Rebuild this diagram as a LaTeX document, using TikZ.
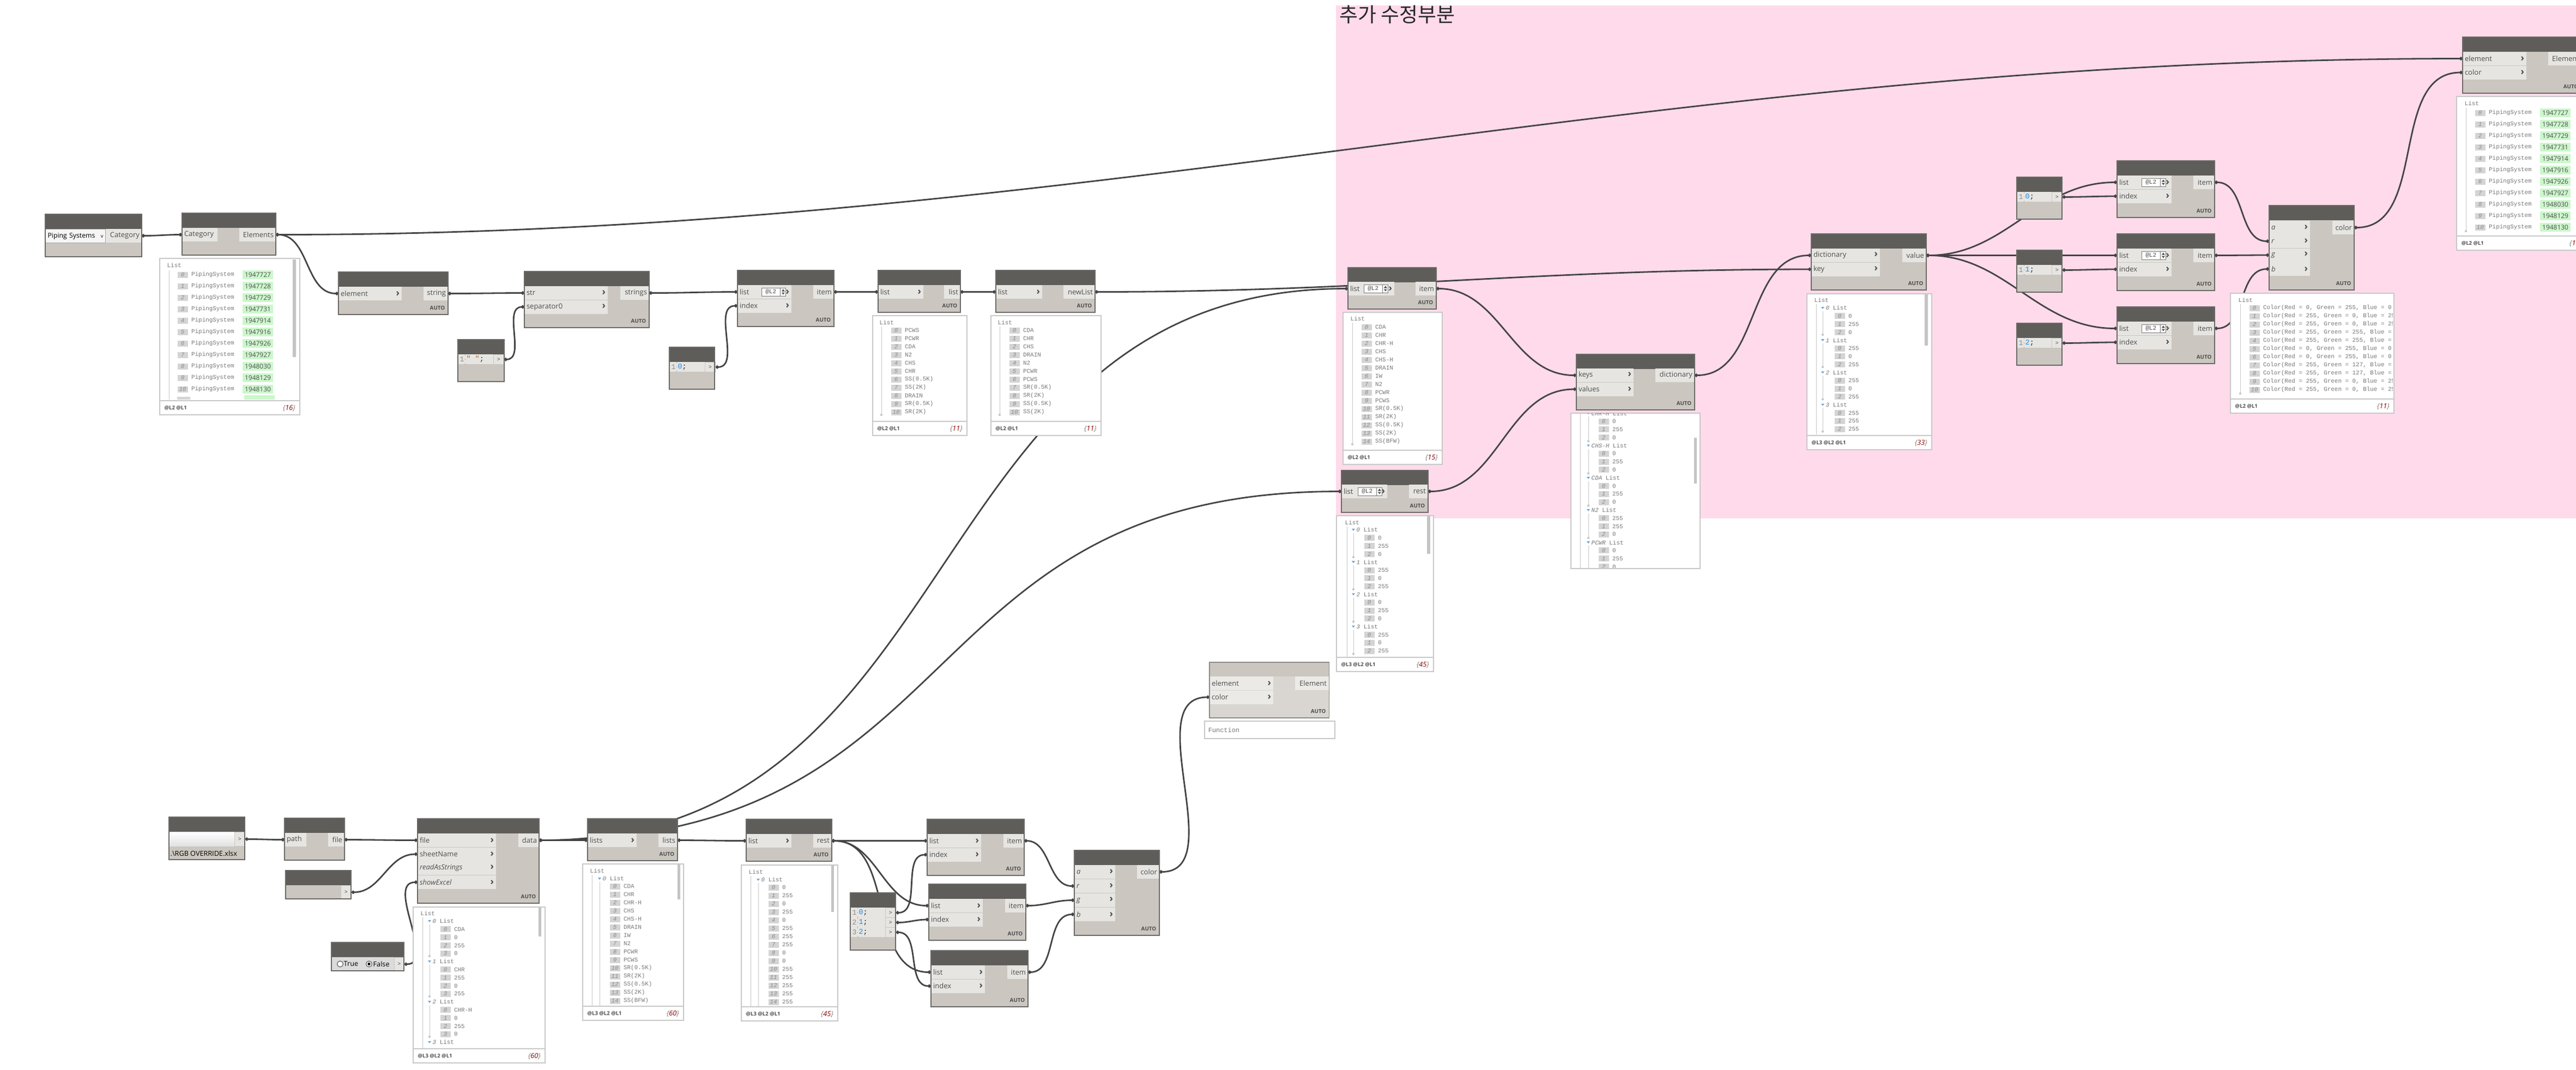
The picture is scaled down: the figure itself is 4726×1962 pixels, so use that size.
\documentclass[tikz,border=0pt]{standalone}
\usepackage{fontspec}
\setmainfont{Open Sans}
\setmonofont{Liberation Mono}
\newfontfamily\krfont{Noto Sans CJK KR}
\usepackage{tikz}
\usetikzlibrary{positioning,calc,arrows.meta}

\definecolor{dynhead}{HTML}{5E5D5A}
\definecolor{dynbody}{HTML}{CBC7C0}
\definecolor{dynport}{HTML}{E6E5E2}
\definecolor{dynedge}{HTML}{6A6966}
\definecolor{dyntext}{HTML}{4D4D4D}
\definecolor{dynwire}{HTML}{444444}
\definecolor{dynpink}{HTML}{FFDAEA}
\definecolor{dynidx}{HTML}{D4D4D4}
\definecolor{dynval}{HTML}{7A7A7A}
\definecolor{dynid}{HTML}{CCF7CC}
\definecolor{dynred}{HTML}{8B0000}
\definecolor{dynwatch}{HTML}{C8C8C8}
\definecolor{dynscroll}{HTML}{C4C4C4}
\definecolor{dynblue}{HTML}{1E8CE6}
\definecolor{dynstr}{HTML}{B5651D}
\definecolor{dyntri}{HTML}{6FA8DC}
\definecolor{fnbody}{HTML}{D9D6D1}
\definecolor{fnport}{HTML}{EBEAE7}
\definecolor{fnedge}{HTML}{8A8A88}

\pgfdeclarelayer{back}
\pgfdeclarelayer{wires}
\pgfdeclarelayer{frames}
\pgfsetlayers{back,wires,main,frames}

\newcommand{\portfont}{\fontsize{3.7}{4}\selectfont}
\newcommand{\chev}{{\fontsize{5}{5}\selectfont\bfseries ›}}

% node body with dark header
\newcommand{\dyn}[5]{%
  \node[dbody, minimum width=#4*0.01cm, minimum height=#5*0.01cm] (#1) at (#2,#3) {};
  \fill[dynhead] (#1.north west) rectangle ($(#1.north east)+(0,27)$);
  \begin{pgfonlayer}{frames}
    \draw[dynedge, line width=0.012cm] (#1.north west) rectangle (#1.south east);
  \end{pgfonlayer}}
\newcommand{\dynauto}[1]{\node[autol] (#1-auto) at ($(#1.south east)+(-5,-12)$) {AUTO};}

% ports
\newcommand{\inport}[6][]{%
  \pgfmathsetlengthmacro\pw{#5*0.01cm-0.08cm}%
  \node[inport, text width=\pw, #1] (#2) at (#3,#4) {#6\hfill\chev};}
\newcommand{\plainport}[6][]{%
  \pgfmathsetlengthmacro\pw{#5*0.01cm-0.08cm}%
  \node[inport, text width=\pw, #1] (#2) at (#3,#4) {#6};}
\newcommand{\outport}[6][]{%
  \pgfmathsetlengthmacro\pw{#5*0.01cm-0.08cm}%
  \node[outport, text width=\pw, #1] (#2) at (#3,#4) {\hfill #6};}
\newcommand{\outbox}[5]{\node[cout, minimum width=#4*0.01cm, minimum height=#5*0.01cm] (#1) at (#2,#3) {>};}
\newcommand{\spin}[3]{%
  \node[spinbox] (#1) at (#2,#3) {@L2};
  \draw[dynval, line width=0.008cm] ($(#1.east)+(-10,-7)$) -- ($(#1.east)+(-10,7)$);
  \fill[dyntext] ($(#1.east)+(-8,-1)$) -- ++(6,0) -- ++(-3,-4) -- cycle;
  \fill[dyntext] ($(#1.east)+(-8,1)$) -- ++(6,0) -- ++(-3,4) -- cycle;}

% code block line
\newcommand{\codeline}[6]{%
  \fill[dynport] (#2,#3) rectangle ++(#4,18);
  \node[cnum] (#1-n) at (#2+3,#3+9) {#5};
  \draw[dotted, dynval, line width=0.008cm] (#2+13,#3+1) -- ++(0,16);
  \node[ctext] (#1-c) at (#2+15,#3+9) {#6};
  \node[cout] (#1) at (#2+#4,#3) {>};}

% watch boxes
\newcommand{\watch}[7]{%
  \node[wbox, minimum width=#4*0.01cm, minimum height=#5*0.01cm] (#1) at (#2,#3) {};
  \draw[dynwatch, line width=0.02cm] ($(#1.south west)+(0,-27)$) -- ($(#1.south east)+(0,-27)$);
  \node[wlvl] (#1-lvl) at ($(#1.south west)+(9,-13)$) {#6};
  \node[wcnt] (#1-cnt) at ($(#1.south east)+(-8,-13)$) {\{\textcolor{dynred}{#7}\}};}
\newcommand{\wrow}[4]{%
  \node[widx] (wi) at (#1,#2) {#3};
  \node[wval, right=0.05cm of wi] (wv) {#4};}
\newcommand{\wpipe}[4]{%
  \node[widx] (wi) at (#1,#2) {#3};
  \node[wval, right=0.05cm of wi] (wv) {PipingSystem};
  \node[wid, right=0.14cm of wv] (wg) {#4};}
\newcommand{\wsub}[3]{%
  \fill[dyntri] (#1-3,#2-2) -- (#1+3,#2-2) -- (#1,#2+2) -- cycle;
  \node[wval] (ws) at (#1+5,#2) {\textit{#3} List};}
\newcommand{\wtree}[3]{%
  \draw[wtree] (#1,#2) -- (#1,#3);
  \fill[dynwatch] (#1,#3) circle[radius=0.022cm];}

\begin{document}
\begin{tikzpicture}[
    x=0.01cm, y=-0.01cm,
    dbody/.style={rectangle, anchor=north west, fill=dynbody, inner sep=0, outer sep=0},
    inport/.style={anchor=north west, fill=dynport, inner xsep=0.04cm, inner ysep=0, outer sep=0, minimum height=0.25cm, font=\portfont, text=dyntext},
    outport/.style={inport, anchor=north east},
    autol/.style={anchor=east, inner sep=0, font=\bfseries\fontsize{2.8}{3}\selectfont, text=dyntext},
    spinbox/.style={anchor=west, fill=white, draw=dynval, line width=0.008cm, minimum width=0.44cm, minimum height=0.15cm, text width=0.30cm, inner xsep=0.02cm, inner ysep=0, font=\ttfamily\fontsize{3.1}{3.4}\selectfont, text=dyntext},
    cnum/.style={anchor=west, inner sep=0, font=\ttfamily\fontsize{3.8}{4}\selectfont, text=black!45},
    ctext/.style={anchor=west, inner sep=0, font=\ttfamily\fontsize{3.8}{4}\selectfont, text=black!85},
    cout/.style={anchor=north west, fill=dynport, draw=dynbody, line width=0.008cm, minimum width=0.19cm, minimum height=0.18cm, inner sep=0, font=\ttfamily\fontsize{2.8}{3}\selectfont, text=dyntext},
    wbox/.style={anchor=north west, fill=white, draw=dynwatch, line width=0.015cm, inner sep=0},
    wlvl/.style={anchor=west, inner sep=0, font=\bfseries\fontsize{2.7}{3}\selectfont, text=dyntext},
    wcnt/.style={anchor=east, inner sep=0, font=\itshape\fontsize{3.6}{4}\selectfont, text=dynval},
    widx/.style={anchor=west, fill=dynidx, text=black!45, font=\ttfamily\itshape\fontsize{3.1}{3.4}\selectfont, minimum width=0.19cm, minimum height=0.11cm, inner xsep=0.025cm, inner ysep=0},
    wval/.style={anchor=west, inner sep=0, text=dynval, font=\ttfamily\fontsize{3.1}{3.4}\selectfont},
    wid/.style={fill=dynid, text=dyntext, font=\fontsize{3.4}{4}\selectfont, minimum width=0.56cm, minimum height=0.16cm, inner sep=0},
    wtree/.style={draw=dynwatch, line width=0.01cm},
    ddbox/.style={anchor=north west, fill=black!4, draw=black!35, line width=0.01cm, text width=1.02cm, inner xsep=0.04cm, inner ysep=0, minimum height=0.25cm, font=\fontsize{3.5}{4}\selectfont, text=black},
    fpbox/.style={anchor=north west, minimum width=1.2cm, minimum height=0.26cm, inner sep=0, top color=white, bottom color=black!12},
    plaintext/.style={anchor=west, inner sep=0, font=\fontsize{3.6}{4}\selectfont, text=black},
    fnbox/.style={anchor=north west, fill=white, draw=dynwatch, line width=0.015cm, minimum width=2.39cm, minimum height=0.30cm, text width=2.25cm, inner xsep=0.07cm, font=\ttfamily\fontsize{3.4}{4}\selectfont, text=dynval},
    wire/.style={draw=dynwire, line width=0.028cm, out=0, in=180, arrows={Circle[length=0.06cm]-Circle[length=0.06cm]}}
]
\useasboundingbox (0,0) rectangle (4726,1962);
\clip (0,0) rectangle (4726,1962);

% canvas and pink group
\begin{pgfonlayer}{back}
  \fill[white] (0,0) rectangle (4726,1962);
  \fill[dynpink] (2451,10) rectangle (4726,951);
\end{pgfonlayer}
\node[anchor=north west, inner sep=0, font=\krfont\fontsize{10.5}{12}\selectfont, text=black!85] (title) at (2457,9) {추가 수정부분};

% ---------- upper chain ----------
\dyn{cat}{83}{393}{177}{78}
\node[ddbox] (cat-dd) at (83,420) {Piping Systems\hfill{\fontsize{2.6}{3}\selectfont v}};
\outport{cat-out}{260}{420}{66}{Category}

\dyn{allel}{334}{391}{172}{77}
\plainport{allel-in}{334}{418}{65}{Category}
\outport{allel-out}{506}{418}{67}{Elements}

\watch{wB}{292}{473}{257}{287}{@L2 @L1}{16}
\begin{scope}
  \clip (293,474) rectangle (548,732);
  \node[wval] (wB-h) at (306,487) {List};
  \draw[wtree] (310,496) -- (310,740);
  \foreach \i/\d in {0/1947727,1/1947728,2/1947729,3/1947731,4/1947914,5/1947916,6/1947926,7/1947927,8/1948030,9/1948129,10/1948130}{
    \wpipe{325}{504+21*\i}{\i}{\d}}
  \fill[dynidx] (325,728) rectangle (349,740);
  \fill[dynid] (448,725) rectangle (504,741);
\end{scope}
\fill[dynscroll] (537,476) rectangle (543,655);

\dyn{elst}{621}{499}{201}{78}
\inport{elst-in}{621}{526}{116}{element}
\outport{elst-out}{822}{526}{45}{string}
\dynauto{elst}

\dyn{cbsep}{840}{623}{85}{77}
\codeline{cbsep-o}{840}{650}{65}{1}{{\color{dynstr}" "};}

\dyn{join}{962}{498}{229}{103}
\inport{join-str}{962}{525}{153}{str}
\inport{join-sep}{962}{550.5}{153}{separator0}
\outport{join-out}{1191}{525}{53}{strings}
\dynauto{join}

\dyn{gi0}{1353}{496}{177}{103}
\inport{gi0-list}{1353}{523}{99}{list}
\spin{gi0-spin}{1397}{535.5}
\inport{gi0-idx}{1353}{548.5}{99}{index}
\outport{gi0-out}{1530}{523}{38}{item}
\dynauto{gi0}

\dyn{cbidx}{1228}{637}{83}{77}
\codeline{cbidx-o}{1228}{664}{65}{1}{\textcolor{dynblue}{0};}

\dyn{flat}{1611}{496}{151}{77}
\inport{flat-in}{1611}{523}{83}{list}
\outport{flat-out}{1762}{523}{30}{list}
\dynauto{flat}
\watch{wH}{1600}{578}{173}{220}{@L2 @L1}{11}
\begin{scope}
  \clip (1601,579) rectangle (1772,771);
  \node[wval] (wH-h) at (1613,592) {List};
  \wtree{1617}{599}{761}
  \foreach \i/\v in {0/PCWS,1/PCWR,2/CDA,3/N2,4/CHS,5/CHR,6/SS(0.5K),7/SS(2K),8/DRAIN,9/SR(0.5K),10/SR(2K)}{
    \wrow{1634}{606+15*\i}{\i}{\v}}
\end{scope}

\dyn{sort}{1827}{496}{182}{77}
\inport{sort-in}{1827}{523}{85}{list}
\outport{sort-out}{2009}{523}{58}{newList}
\dynauto{sort}
\watch{wI}{1817}{578}{202}{220}{@L2 @L1}{11}
\begin{scope}
  \clip (1818,579) rectangle (2018,771);
  \node[wval] (wI-h) at (1830,592) {List};
  \wtree{1834}{599}{761}
  \foreach \i/\v in {0/CDA,1/CHR,2/CHS,3/DRAIN,4/N2,5/PCWR,6/PCWS,7/SR(0.5K),8/SR(2K),9/SS(0.5K),10/SS(2K)}{
    \wrow{1851}{606+15*\i}{\i}{\v}}
\end{scope}

% ---------- pink group ----------
\dyn{pgi}{2473}{491}{162}{76}
\inport{pgi-list}{2473}{517}{85}{list}
\spin{pgi-spin}{2502}{529.5}
\outport{pgi-out}{2635}{517}{38}{item}
\dynauto{pgi}
\watch{wJ}{2463}{572}{182}{279}{@L2 @L1}{15}
\begin{scope}
  \clip (2464,573) rectangle (2644,825);
  \node[wval] (wJ-h) at (2477,585) {List};
  \wtree{2481}{592}{815}
  \foreach \i/\v in {0/CDA,1/CHR,2/CHR-H,3/CHS,4/CHS-H,5/DRAIN,6/IW,7/N2,8/PCWR,9/PCWS,10/SR(0.5K),11/SR(2K),12/SS(0.5K),13/SS(2K),14/SS(BFW)}{
    \wrow{2497}{600+15*\i}{\i}{\v}}
\end{scope}

\dyn{prest}{2461}{863}{159}{77}
\inport{prest-list}{2461}{889}{84}{list}
\spin{prest-spin}{2491}{901.5}
\outport{prest-out}{2620}{889}{35}{rest}
\dynauto{prest}
\watch{wK}{2451}{945}{178}{286}{@L3 @L2 @L1}{45}
\begin{scope}
  \clip (2452,946) rectangle (2628,1204);
  \node[wval] (wK-h) at (2467,959) {List};
  \draw[wtree] (2471,966) -- (2471,1210);
  \foreach \k/\a/\b/\c in {0/0/255/0,1/255/0/255,2/0/255/0,3/255/0/255}{
    \wsub{2483}{972+59.2*\k}{\k}
    \wtree{2483}{978+59.2*\k}{1022+59.2*\k}
    \wrow{2502}{986.8+59.2*\k}{0}{\a}
    \wrow{2502}{1001.6+59.2*\k}{1}{\b}
    \wrow{2502}{1016.4+59.2*\k}{2}{\c}}
\end{scope}
\fill[dynscroll] (2618,947) rectangle (2624,1016);

\dyn{dkv}{2892}{650}{217}{102}
\inport{dkv-keys}{2892}{676}{105}{keys}
\inport{dkv-vals}{2892}{701.5}{105}{values}
\outport{dkv-out}{3109}{676}{72}{dictionary}
\dynauto{dkv}
\node[wbox, minimum width=2.37cm, minimum height=2.85cm] (wL) at (2881,757) {};
\begin{scope}
  \clip (2882,758) rectangle (3117,1041);
  \draw[wtree] (2899,750) -- (2899,1050);
  \foreach \k/\n/\a/\b/\c in {0/CHR-H/0/255/0,1/CHS-H/0/255/0,2/CDA/0/255/0,3/N2/255/255/0,4/PCWR/0/255/0}{
    \wsub{2914}{758.3+59.2*\k}{\n}
    \wtree{2914}{764.3+59.2*\k}{809.3+59.2*\k}
    \wrow{2932}{773.1+59.2*\k}{0}{\a}
    \wrow{2932}{787.9+59.2*\k}{1}{\b}
    \wrow{2932}{802.7+59.2*\k}{2}{\c}}
\end{scope}
\fill[dynscroll] (3108,803) rectangle (3113,887);

\dyn{dva}{3323}{429}{211}{103}
\inport{dva-dict}{3323}{456}{126}{dictionary}
\inport{dva-key}{3323}{481.5}{126}{key}
\outport{dva-out}{3534}{456}{44}{value}
\dynauto{dva}
\watch{wM}{3314}{538}{229}{286}{@L3 @L2 @L1}{33}
\begin{scope}
  \clip (3315,539) rectangle (3542,796);
  \node[wval] (wM-h) at (3328,551) {List};
  \draw[wtree] (3332,558) -- (3332,800);
  \foreach \k/\a/\b/\c in {0/0/255/0,1/255/0/255,2/255/0/255,3/255/255/255}{
    \wsub{3344}{565+59.2*\k}{\k}
    \wtree{3344}{571+59.2*\k}{614+59.2*\k}
    \wrow{3365}{579.8+59.2*\k}{0}{\a}
    \wrow{3365}{594.6+59.2*\k}{1}{\b}
    \wrow{3365}{609.4+59.2*\k}{2}{\c}}
\end{scope}
\fill[dynscroll] (3531,540) rectangle (3537,634);

\foreach \n/\y/\v in {a/295/0,b/429/1,c/563/2}{
  \dyn{gi\n}{3884}{\y}{179}{104}
  \inport{gi\n-list}{3884}{\y+27}{100}{list}
  \spin{gi\n-spin}{3929}{\y+39.5}
  \inport{gi\n-idx}{3884}{\y+52.5}{100}{index}
  \outport{gi\n-out}{4063}{\y+27}{39}{item}
  \dynauto{gi\n}
  \dyn{cb\n}{3700}{\y+30}{83}{77}
  \codeline{cb\n-o}{3700}{\y+57}{64}{1}{\textcolor{dynblue}{\v};}
}

\dyn{argb}{4163}{377}{156}{155}
\inport{argb-a}{4163}{405}{75}{\textit{a}}
\inport{argb-r}{4163}{430}{75}{\textit{r}}
\inport{argb-g}{4163}{455.5}{75}{\textit{g}}
\inport{argb-b}{4163}{481}{75}{\textit{b}}
\outport{argb-out}{4319}{405}{40}{color}
\dynauto{argb}
\watch{wP}{4091}{537}{300}{220}{@L2 @L1}{11}
\begin{scope}
  \clip (4092,538) rectangle (4389,730);
  \node[wval] (wP-h) at (4106,551) {List};
  \wtree{4110}{558}{722}
  \foreach \i/\r/\g/\b in {0/0/255/0,1/255/0/255,2/255/0/255,3/255/255/255,4/255/255/255,5/0/255/0,6/0/255/0,7/255/127/255,8/255/127/255,9/255/0/255,10/255/0/255}{
    \wrow{4126}{565+15*\i}{\i}{Color(Red = \r, Green = \g, Blue = \b}}
\end{scope}

\dyn{setc}{4518}{68}{218}{103}
\inport{setc-el}{4518}{95}{117}{element}
\inport{setc-col}{4518}{120.5}{117}{color}
\outport{setc-out}{4736}{95}{61}{Element}
\dynauto{setc}
\watch{wQ}{4506}{176}{238}{282}{@L2 @L1}{16}
\begin{scope}
  \clip (4507,177) rectangle (4743,435);
  \node[wval] (wQ-h) at (4521,190) {List};
  \wtree{4524}{198}{424}
  \foreach \i/\d in {0/1947727,1/1947728,2/1947729,3/1947731,4/1947914,5/1947916,6/1947926,7/1947927,8/1948030,9/1948129,10/1948130}{
    \wpipe{4540}{207+21*\i}{\i}{\d}}
\end{scope}

% ---------- lower chain ----------
\dyn{fpath}{310}{1499}{139}{78}
\node[fpbox] (fpath-box) at (310,1526) {};
\outbox{fpath-out}{430}{1526}{19}{26}
\node[plaintext] (fpath-txt) at (312,1566) {.\textbackslash RGB OVERRIDE.xlsx};

\dyn{ffile}{522}{1501}{110}{77}
\plainport{ffile-in}{522}{1528}{40}{path}
\outport{ffile-out}{632}{1528}{30}{file}

\dyn{fstr}{524}{1597}{120}{52}
\outbox{fstr-out}{625}{1624}{19}{25}

\dyn{bool}{608}{1729}{133}{52}
\fill[black!14] (608,1756) rectangle (723,1781);
\draw[dyntext, line width=0.01cm, fill=white] (624,1768.5) circle[radius=0.055cm];
\node[plaintext] (bool-true) at (630,1768.5) {True};
\draw[dyntext, line width=0.01cm, fill=white] (677,1768.5) circle[radius=0.055cm];
\fill[black] (677,1768.5) circle[radius=0.026cm];
\node[plaintext] (bool-false) at (684,1768.5) {False};
\outbox{bool-out}{723}{1756}{18}{25}

\dyn{xls}{766}{1502}{223}{155}
\inport{xls-file}{766}{1529}{144}{file}
\inport{xls-sheet}{766}{1554.5}{144}{sheetName}
\inport{xls-read}{766}{1580}{144}{\textit{readAsStrings}}
\inport{xls-show}{766}{1606}{144}{\textit{showExcel}}
\outport{xls-out}{989}{1529}{38}{data}
\dynauto{xls}
\watch{wU}{757}{1663}{242}{286}{@L3 @L2 @L1}{60}
\begin{scope}
  \clip (758,1664) rectangle (998,1922);
  \node[wval] (wU-h) at (771,1676) {List};
  \draw[wtree] (775,1683) -- (775,1930);
  \foreach \k/\a/\b/\c/\d in {0/CDA/0/255/0,1/CHR/255/0/255,2/CHR-H/0/255/0}{
    \wsub{788}{1690+74*\k}{\k}
    \wtree{788}{1696+74*\k}{1754+74*\k}
    \wrow{807}{1704.8+74*\k}{0}{\a}
    \wrow{807}{1719.6+74*\k}{1}{\b}
    \wrow{807}{1734.4+74*\k}{2}{\c}
    \wrow{807}{1749.2+74*\k}{3}{\d}}
  \wsub{788}{1912}{3}
\end{scope}
\fill[dynscroll] (988,1665) rectangle (993,1718);

\dyn{trp}{1078}{1502}{165}{77}
\inport{trp-in}{1078}{1529}{90}{lists}
\outport{trp-out}{1243}{1529}{35}{lists}
\dynauto{trp}
\watch{wW}{1068}{1584}{185}{287}{@L3 @L2 @L1}{60}
\begin{scope}
  \clip (1069,1585) rectangle (1252,1844);
  \node[wval] (wW-h) at (1082,1598) {List};
  \draw[wtree] (1086,1605) -- (1086,1850);
  \wsub{1100}{1612}{0}
  \draw[wtree] (1100,1618) -- (1100,1850);
  \foreach \i/\v in {0/CDA,1/CHR,2/CHR-H,3/CHS,4/CHS-H,5/DRAIN,6/IW,7/N2,8/PCWR,9/PCWS,10/SR(0.5K),11/SR(2K),12/SS(0.5K),13/SS(2K),14/SS(BFW)}{
    \wrow{1118}{1626+15*\i}{\i}{\v}}
\end{scope}
\fill[dynscroll] (1243,1586) rectangle (1248,1650);

\dyn{brest}{1369}{1503}{157}{77}
\inport{brest-in}{1369}{1530}{83}{list}
\outport{brest-out}{1526}{1530}{34}{rest}
\dynauto{brest}
\watch{wX}{1359}{1586}{177}{286}{@L3 @L2 @L1}{45}
\begin{scope}
  \clip (1360,1587) rectangle (1535,1845);
  \node[wval] (wX-h) at (1373,1600) {List};
  \draw[wtree] (1377,1607) -- (1377,1850);
  \wsub{1391}{1614}{0}
  \draw[wtree] (1391,1620) -- (1391,1850);
  \foreach \i/\v in {0/0,1/255,2/0,3/255,4/0,5/255,6/255,7/255,8/0,9/0,10/255,11/255,12/255,13/255,14/255}{
    \wrow{1409}{1628+15*\i}{\i}{\v}}
\end{scope}
\fill[dynscroll] (1525,1588) rectangle (1530,1673);

\dyn{cb3}{1560}{1638}{83}{105}
\codeline{cb3-o0}{1560}{1665}{64}{1}{\textcolor{dynblue}{0};}
\codeline{cb3-o1}{1560}{1683}{64}{2}{\textcolor{dynblue}{1};}
\codeline{cb3-o2}{1560}{1701}{64}{3}{\textcolor{dynblue}{2};}

\foreach \n/\x/\y in {a/1701/1503,b/1704/1622,c/1708/1744}{
  \dyn{bg\n}{\x}{\y}{178}{103}
  \inport{bg\n-list}{\x}{\y+27}{99}{list}
  \inport{bg\n-idx}{\x}{\y+52.5}{99}{index}
  \outport{bg\n-out}{\x+178}{\y+27}{38}{item}
  \dynauto{bg\n}
}

\dyn{bargb}{1971}{1560}{156}{156}
\inport{bargb-a}{1971}{1587}{75}{\textit{a}}
\inport{bargb-r}{1971}{1613}{75}{\textit{r}}
\inport{bargb-g}{1971}{1639}{75}{\textit{g}}
\inport{bargb-b}{1971}{1665}{75}{\textit{b}}
\outport{bargb-out}{2127}{1587}{41}{color}
\dynauto{bargb}

% function node (partly applied)
\node[dbody, fill=fnbody, minimum width=2.19cm, minimum height=1.02cm] (func) at (2219,1215) {};
\fill[dynbody] (func.north west) rectangle ($(func.north east)+(0,26)$);
\inport[fill=fnport]{func-el}{2219}{1241}{117}{element}
\inport[fill=fnport]{func-col}{2219}{1266.5}{117}{color}
\outport[fill=fnport]{func-out}{2438}{1241}{62}{Element}
\dynauto{func}
\begin{pgfonlayer}{frames}
  \draw[fnedge, line width=0.012cm] (func.north west) rectangle (func.south east);
\end{pgfonlayer}
\node[fnbox] (func-box) at (2209,1322) {Function};

% ---------- wires ----------
\begin{pgfonlayer}{wires}
  \draw[wire] (cat-out.east) to (allel-in.west);
  \draw[wire] (allel-out.east) to (elst-in.west);
  \draw[wire] (allel-out.east) .. controls +(1500,0) and +(-1500,0) .. (setc-el.west);
  \draw[wire] (elst-out.east) to (join-str.west);
  \draw[wire] (cbsep-o.east) to (join-sep.west);
  \draw[wire] (join-out.east) to (gi0-list.west);
  \draw[wire] (cbidx-o.east) to (gi0-idx.west);
  \draw[wire] (gi0-out.east) to (flat-in.west);
  \draw[wire] (flat-out.east) to (sort-in.west);
  \draw[wire] (sort-out.east) .. controls +(500,0) and +(-500,0) .. (dva-key.west);
  \draw[wire] (xls-out.east) .. controls +(800,0) and +(-800,0) .. (pgi-list.west);
  \draw[wire] (xls-out.east) .. controls +(800,0) and +(-800,0) .. (prest-list.west);
  \draw[wire] (pgi-out.east) to (dkv-keys.west);
  \draw[wire] (prest-out.east) to (dkv-vals.west);
  \draw[wire] (dkv-out.east) to (dva-dict.west);
  \foreach \n in {a,b,c}{
    \draw[wire] (dva-out.east) to (gi\n-list.west);
    \draw[wire] (cb\n-o.east) to (gi\n-idx.west);}
  \draw[wire] (gia-out.east) to (argb-r.west);
  \draw[wire] (gib-out.east) to (argb-g.west);
  \draw[wire] (gic-out.east) to (argb-b.west);
  \draw[wire] (argb-out.east) to (setc-col.west);
  % lower
  \draw[wire] (fpath-out.east) to (ffile-in.west);
  \draw[wire] (ffile-out.east) to (xls-file.west);
  \draw[wire] (fstr-out.east) to (xls-sheet.west);
  \draw[wire] (bool-out.east) to (xls-show.west);
  \draw[wire] (xls-out.east) to (trp-in.west);
  \draw[wire] (trp-out.east) to (brest-in.west);
  \foreach \n in {a,b,c}{
    \draw[wire] (brest-out.east) to (bg\n-list.west);}
  \draw[wire] (cb3-o0.east) to (bga-idx.west);
  \draw[wire] (cb3-o1.east) to (bgb-idx.west);
  \draw[wire] (cb3-o2.east) to (bgc-idx.west);
  \draw[wire] (bga-out.east) to (bargb-r.west);
  \draw[wire] (bgb-out.east) to (bargb-g.west);
  \draw[wire] (bgc-out.east) to (bargb-b.west);
  \draw[wire] (bargb-out.east) to (func-col.west);
\end{pgfonlayer}
\end{tikzpicture}
\end{document}
